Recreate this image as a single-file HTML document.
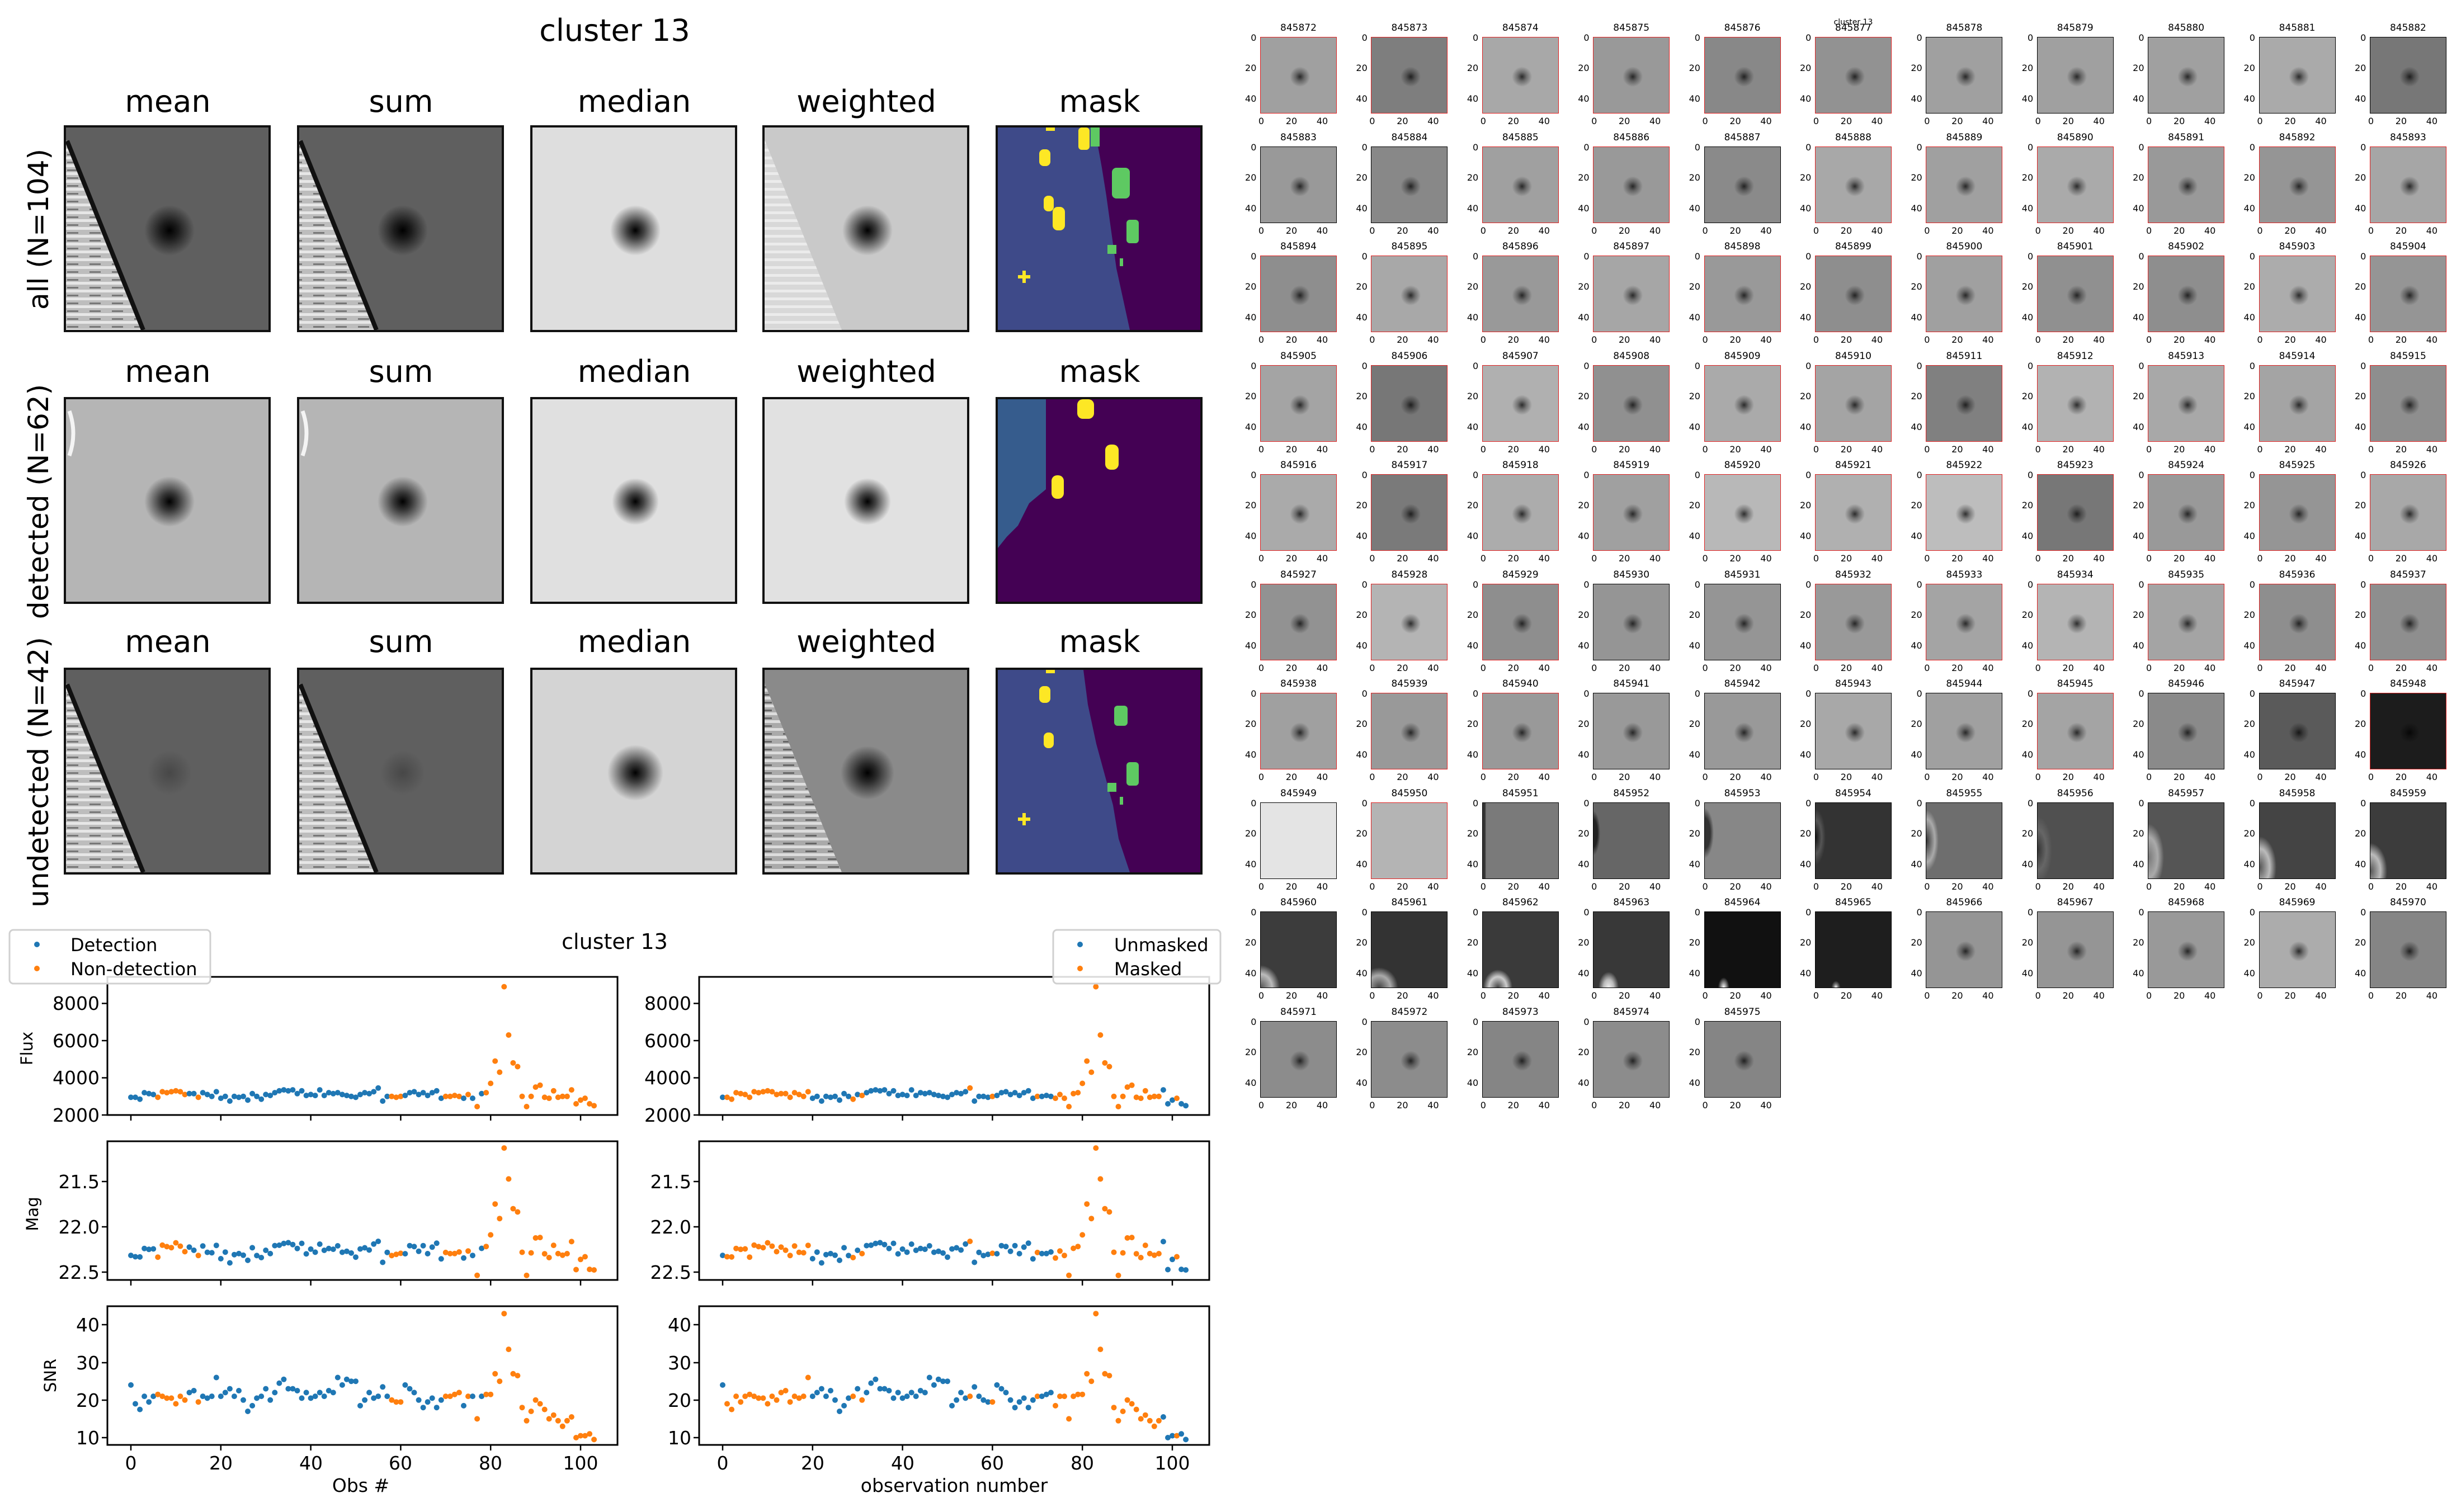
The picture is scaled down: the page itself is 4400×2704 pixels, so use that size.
<!DOCTYPE html>
<html><head><meta charset="utf-8">
<style>
html,body{margin:0;padding:0;background:#fff}
body{width:4400px;height:2704px;position:relative;overflow:hidden;font-family:"DejaVu Sans","Liberation Sans",sans-serif}
svg{position:absolute;left:0;top:0}
.g{position:absolute;left:2200px;top:0;display:grid;grid-template-columns:repeat(11,198.4px);grid-auto-rows:195.5px}
.c{position:relative;font-size:16px;color:#000;--g:#a0a0a0}
.c p{position:absolute;margin:0;left:53px;width:137px;top:40px;text-align:center;font-size:17px;line-height:20px}
.c i{position:absolute;left:53px;top:66px;width:135px;height:135px;border:1px solid #e02020;background:radial-gradient(circle at 52% 52%,rgba(0,0,0,.75) 0,rgba(0,0,0,.35) 8px,rgba(0,0,0,0) 18px),var(--g)}
.c.k i{border-color:#000}
.c em{position:absolute;font-style:normal;right:152px;width:30px;text-align:right;line-height:16px}
.c em:nth-of-type(1){top:60px}.c em:nth-of-type(2){top:114px}.c em:nth-of-type(3){top:169px}
.c b{position:absolute;font-weight:normal;top:209px;width:30px;text-align:center;line-height:16px}
.c b:nth-of-type(1){left:40px}.c b:nth-of-type(2){left:94px}.c b:nth-of-type(3){left:149px}
.st{position:absolute;left:0;top:0}
</style></head><body>

<svg width="2200" height="1650" viewBox="0 0 2200 1650">
<defs>
<radialGradient id="s1"><stop offset="0" stop-color="#000" stop-opacity="1"/><stop offset=".35" stop-color="#000" stop-opacity=".7"/><stop offset="1" stop-color="#000" stop-opacity="0"/></radialGradient>
<radialGradient id="s2"><stop offset="0" stop-color="#000" stop-opacity=".25"/><stop offset="1" stop-color="#000" stop-opacity="0"/></radialGradient>
<pattern id="str" width="40" height="14" patternUnits="userSpaceOnUse"><rect width="40" height="14" fill="#bdbdbd"/><rect width="40" height="5" fill="#e6e6e6"/><rect y="9" width="20" height="3" fill="#777"/></pattern>
<pattern id="str2" width="40" height="14" patternUnits="userSpaceOnUse"><rect width="40" height="14" fill="#d8d8d8"/><rect width="40" height="5" fill="#ebebeb"/></pattern>
<pattern id="str3" width="40" height="14" patternUnits="userSpaceOnUse"><rect width="40" height="14" fill="#aaa"/><rect width="40" height="5" fill="#ddd"/><rect y="9" width="20" height="3" fill="#666"/></pattern>
</defs>
<g font-size="54" text-anchor="middle" fill="#000">
<text x="1099" y="73">cluster 13</text>
<text x="300" y="200">mean</text><text x="717" y="200">sum</text><text x="1134" y="200">median</text><text x="1549" y="200">weighted</text><text x="1966" y="200">mask</text>
<text x="300" y="683">mean</text><text x="717" y="683">sum</text><text x="1134" y="683">median</text><text x="1549" y="683">weighted</text><text x="1966" y="683">mask</text>
<text x="300" y="1166">mean</text><text x="717" y="1166">sum</text><text x="1134" y="1166">median</text><text x="1549" y="1166">weighted</text><text x="1966" y="1166">mask</text>
</g>
<g font-size="50" text-anchor="middle">
<text transform="translate(86,410) rotate(-90)">all (N=104)</text>
<text transform="translate(86,897) rotate(-90)">detected (N=62)</text>
<text transform="translate(86,1381) rotate(-90)">undetected (N=42)</text>
</g>
<!-- row 1 -->
<g stroke="#111" stroke-width="4">
<rect x="116" y="226" width="366" height="366" fill="#5f5f5f"/>
<rect x="533" y="226" width="366" height="366" fill="#5f5f5f"/>
<rect x="950" y="226" width="366" height="366" fill="#dedede"/>
<rect x="1365" y="226" width="366" height="366" fill="#c9c9c9"/>
<rect x="1782" y="226" width="366" height="366" fill="#440154"/>
</g>
<polygon points="118,250 118,590 256,590" fill="url(#str)"/><line x1="120" y1="252" x2="256" y2="590" stroke="#111" stroke-width="8"/>
<polygon points="535,250 535,590 673,590" fill="url(#str)"/><line x1="537" y1="252" x2="673" y2="590" stroke="#111" stroke-width="8"/>
<polygon points="1367,250 1367,590 1505,590" fill="url(#str2)"/>
<circle cx="303" cy="412" r="45" fill="url(#s1)"/><circle cx="720" cy="412" r="45" fill="url(#s1)"/><circle cx="1136" cy="412" r="45" fill="url(#s1)"/><circle cx="1551" cy="412" r="45" fill="url(#s1)"/>
<polygon points="1784,228 1957,228 1970,300 1978,350 1996,480 2020,590 1784,590" fill="#3e4a89"/>
<g fill="#fde725"><rect x="1858" y="267" width="20" height="30" rx="8"/><rect x="1866" y="350" width="18" height="28" rx="8"/><rect x="1882" y="370" width="22" height="42" rx="9"/><rect x="1928" y="228" width="20" height="40" rx="6"/><rect x="1870" y="228" width="16" height="6"/><rect x="1820" y="492" width="22" height="6"/><rect x="1828" y="484" width="6" height="22"/></g>
<g fill="#5ec962"><rect x="1950" y="228" width="16" height="34"/><rect x="1988" y="300" width="32" height="55" rx="8"/><rect x="2014" y="393" width="22" height="42" rx="6"/><rect x="1980" y="438" width="16" height="16"/><rect x="2002" y="462" width="6" height="14"/></g>
<!-- row 2 -->
<g stroke="#111" stroke-width="4">
<rect x="116" y="712" width="366" height="366" fill="#b5b5b5"/>
<rect x="533" y="712" width="366" height="366" fill="#b5b5b5"/>
<rect x="950" y="712" width="366" height="366" fill="#e0e0e0"/>
<rect x="1365" y="712" width="366" height="366" fill="#e1e1e1"/>
<rect x="1782" y="712" width="366" height="366" fill="#440154"/>
</g>
<path d="M124,735 q14,40 0,80" stroke="#f4f4f4" stroke-width="7" fill="none"/><path d="M541,735 q14,40 0,80" stroke="#f4f4f4" stroke-width="7" fill="none"/>
<circle cx="303" cy="897" r="45" fill="url(#s1)"/><circle cx="720" cy="897" r="45" fill="url(#s1)"/><circle cx="1136" cy="897" r="42" fill="url(#s1)"/><circle cx="1551" cy="897" r="42" fill="url(#s1)"/>
<polygon points="1784,714 1870,714 1870,875 1840,900 1820,940 1800,960 1784,980" fill="#365c8d"/>
<g fill="#fde725"><rect x="1926" y="714" width="30" height="35" rx="10"/><rect x="1976" y="795" width="24" height="45" rx="10"/><rect x="1880" y="850" width="22" height="42" rx="10"/></g>
<!-- row 3 -->
<g stroke="#111" stroke-width="4">
<rect x="116" y="1196" width="366" height="366" fill="#5f5f5f"/>
<rect x="533" y="1196" width="366" height="366" fill="#5f5f5f"/>
<rect x="950" y="1196" width="366" height="366" fill="#d4d4d4"/>
<rect x="1365" y="1196" width="366" height="366" fill="#8a8a8a"/>
<rect x="1782" y="1196" width="366" height="366" fill="#440154"/>
</g>
<polygon points="118,1222 118,1560 256,1560" fill="url(#str)"/><line x1="120" y1="1224" x2="256" y2="1560" stroke="#111" stroke-width="8"/>
<polygon points="535,1222 535,1560 673,1560" fill="url(#str)"/><line x1="537" y1="1224" x2="673" y2="1560" stroke="#111" stroke-width="8"/>
<polygon points="1367,1222 1367,1560 1505,1560" fill="url(#str3)"/>
<circle cx="303" cy="1382" r="40" fill="url(#s2)"/><circle cx="720" cy="1382" r="40" fill="url(#s2)"/><circle cx="1136" cy="1382" r="50" fill="url(#s1)"/><circle cx="1551" cy="1382" r="48" fill="url(#s1)"/>
<polygon points="1784,1198 1937,1198 1945,1260 1960,1330 1990,1440 2000,1500 2020,1560 1784,1560" fill="#3e4a89"/>
<g fill="#fde725"><rect x="1858" y="1227" width="20" height="30" rx="8"/><rect x="1866" y="1310" width="18" height="28" rx="8"/><rect x="1820" y="1462" width="22" height="6"/><rect x="1828" y="1454" width="6" height="22"/><rect x="1870" y="1198" width="16" height="6"/></g>
<g fill="#5ec962"><rect x="1992" y="1262" width="24" height="36" rx="6"/><rect x="2014" y="1363" width="22" height="42" rx="6"/><rect x="1980" y="1400" width="16" height="16"/><rect x="2002" y="1425" width="6" height="14"/></g>
</svg>

<svg width="2200" height="2704" viewBox="0 0 2200 2704" style="left:0;top:0" id="pl">
<g fill="none" stroke="#000" stroke-width="3">
<rect x="192" y="1747" width="912" height="247"/><rect x="192" y="2041" width="912" height="248"/><rect x="192" y="2336" width="912" height="248"/>
<rect x="1250" y="1747" width="912" height="247"/><rect x="1250" y="2041" width="912" height="248"/><rect x="1250" y="2336" width="912" height="248"/>
</g>
<g id="ticks" stroke="#000" stroke-width="2.5"></g>
<g font-size="33" text-anchor="end" fill="#000">
<text x="178" y="2006">2000</text><text x="178" y="1939">4000</text><text x="178" y="1873">6000</text><text x="178" y="1806">8000</text>
<text x="178" y="2125">21.5</text><text x="178" y="2206">22.0</text><text x="178" y="2287">22.5</text>
<text x="178" y="2583">10</text><text x="178" y="2516">20</text><text x="178" y="2449">30</text><text x="178" y="2381">40</text>
<text x="1236" y="2006">2000</text><text x="1236" y="1939">4000</text><text x="1236" y="1873">6000</text><text x="1236" y="1806">8000</text>
<text x="1236" y="2125">21.5</text><text x="1236" y="2206">22.0</text><text x="1236" y="2287">22.5</text>
<text x="1236" y="2583">10</text><text x="1236" y="2516">20</text><text x="1236" y="2449">30</text><text x="1236" y="2381">40</text>
</g>
<g font-size="33" text-anchor="middle" fill="#000">
<text x="234" y="2628">0</text><text x="395" y="2628">20</text><text x="556" y="2628">40</text><text x="716" y="2628">60</text><text x="877" y="2628">80</text><text x="1038" y="2628">100</text>
<text x="1292" y="2628">0</text><text x="1453" y="2628">20</text><text x="1614" y="2628">40</text><text x="1774" y="2628">60</text><text x="1935" y="2628">80</text><text x="2096" y="2628">100</text>
<text x="645" y="2668">Obs #</text><text x="1706" y="2668">observation number</text>
<text x="1099" y="1697" font-size="38">cluster 13</text>
</g>
<g font-size="29" text-anchor="middle">
<text transform="translate(58,1875) rotate(-90)">Flux</text>
<text transform="translate(68,2171) rotate(-90)">Mag</text>
<text transform="translate(100,2460) rotate(-90)">SNR</text>
</g>
<g id="dots"></g>
<rect x="17" y="1663" width="359" height="96" rx="7" fill="#fff" fill-opacity=".85" stroke="#d0d0d0" stroke-width="3"/>
<circle cx="66" cy="1689" r="5" fill="#1f77b4"/><circle cx="66" cy="1732" r="5" fill="#ff7f0e"/>
<text x="126" y="1701" font-size="32">Detection</text><text x="126" y="1744" font-size="32">Non-detection</text>
<rect x="1883" y="1663" width="299" height="96" rx="7" fill="#fff" fill-opacity=".85" stroke="#d0d0d0" stroke-width="3"/>
<circle cx="1931" cy="1689" r="5" fill="#1f77b4"/><circle cx="1931" cy="1732" r="5" fill="#ff7f0e"/>
<text x="1992" y="1701" font-size="32">Unmasked</text><text x="1992" y="1744" font-size="32">Masked</text>
</svg>

<div class="g">
<div class="c"><p>845872</p><i></i><em>0</em><em>20</em><em>40</em><b>0</b><b>20</b><b>40</b></div>
<div class="c" style="--g:#7e7e7e"><p>845873</p><i></i><em>0</em><em>20</em><em>40</em><b>0</b><b>20</b><b>40</b></div>
<div class="c" style="--g:#a8a8a8"><p>845874</p><i></i><em>0</em><em>20</em><em>40</em><b>0</b><b>20</b><b>40</b></div>
<div class="c" style="--g:#999"><p>845875</p><i></i><em>0</em><em>20</em><em>40</em><b>0</b><b>20</b><b>40</b></div>
<div class="c" style="--g:#888"><p>845876</p><i></i><em>0</em><em>20</em><em>40</em><b>0</b><b>20</b><b>40</b></div>
<div class="c" style="--g:#929292"><p style="top:30px;font-size:14px">cluster 13</p><p>845877</p><i></i><em>0</em><em>20</em><em>40</em><b>0</b><b>20</b><b>40</b></div>
<div class="c k"><p>845878</p><i></i><em>0</em><em>20</em><em>40</em><b>0</b><b>20</b><b>40</b></div>
<div class="c k"><p>845879</p><i></i><em>0</em><em>20</em><em>40</em><b>0</b><b>20</b><b>40</b></div>
<div class="c k"><p>845880</p><i></i><em>0</em><em>20</em><em>40</em><b>0</b><b>20</b><b>40</b></div>
<div class="c k" style="--g:#aaa"><p>845881</p><i></i><em>0</em><em>20</em><em>40</em><b>0</b><b>20</b><b>40</b></div>
<div class="c k" style="--g:#777"><p>845882</p><i></i><em>0</em><em>20</em><em>40</em><b>0</b><b>20</b><b>40</b></div>
<div class="c k" style="--g:#999"><p>845883</p><i></i><em>0</em><em>20</em><em>40</em><b>0</b><b>20</b><b>40</b></div>
<div class="c k" style="--g:#888"><p>845884</p><i></i><em>0</em><em>20</em><em>40</em><b>0</b><b>20</b><b>40</b></div>
<div class="c"><p>845885</p><i></i><em>0</em><em>20</em><em>40</em><b>0</b><b>20</b><b>40</b></div>
<div class="c" style="--g:#999"><p>845886</p><i></i><em>0</em><em>20</em><em>40</em><b>0</b><b>20</b><b>40</b></div>
<div class="c k" style="--g:#8a8a8a"><p>845887</p><i></i><em>0</em><em>20</em><em>40</em><b>0</b><b>20</b><b>40</b></div>
<div class="c" style="--g:#a8a8a8"><p>845888</p><i></i><em>0</em><em>20</em><em>40</em><b>0</b><b>20</b><b>40</b></div>
<div class="c"><p>845889</p><i></i><em>0</em><em>20</em><em>40</em><b>0</b><b>20</b><b>40</b></div>
<div class="c" style="--g:#aaa"><p>845890</p><i></i><em>0</em><em>20</em><em>40</em><b>0</b><b>20</b><b>40</b></div>
<div class="c" style="--g:#999"><p>845891</p><i></i><em>0</em><em>20</em><em>40</em><b>0</b><b>20</b><b>40</b></div>
<div class="c" style="--g:#959595"><p>845892</p><i></i><em>0</em><em>20</em><em>40</em><b>0</b><b>20</b><b>40</b></div>
<div class="c" style="--g:#a6a6a6"><p>845893</p><i></i><em>0</em><em>20</em><em>40</em><b>0</b><b>20</b><b>40</b></div>
<div class="c" style="--g:#8e8e8e"><p>845894</p><i></i><em>0</em><em>20</em><em>40</em><b>0</b><b>20</b><b>40</b></div>
<div class="c" style="--g:#a8a8a8"><p>845895</p><i></i><em>0</em><em>20</em><em>40</em><b>0</b><b>20</b><b>40</b></div>
<div class="c" style="--g:#999"><p>845896</p><i></i><em>0</em><em>20</em><em>40</em><b>0</b><b>20</b><b>40</b></div>
<div class="c" style="--g:#a6a6a6"><p>845897</p><i></i><em>0</em><em>20</em><em>40</em><b>0</b><b>20</b><b>40</b></div>
<div class="c" style="--g:#999"><p>845898</p><i></i><em>0</em><em>20</em><em>40</em><b>0</b><b>20</b><b>40</b></div>
<div class="c" style="--g:#8e8e8e"><p>845899</p><i></i><em>0</em><em>20</em><em>40</em><b>0</b><b>20</b><b>40</b></div>
<div class="c"><p>845900</p><i></i><em>0</em><em>20</em><em>40</em><b>0</b><b>20</b><b>40</b></div>
<div class="c" style="--g:#909090"><p>845901</p><i></i><em>0</em><em>20</em><em>40</em><b>0</b><b>20</b><b>40</b></div>
<div class="c" style="--g:#8e8e8e"><p>845902</p><i></i><em>0</em><em>20</em><em>40</em><b>0</b><b>20</b><b>40</b></div>
<div class="c" style="--g:#acacac"><p>845903</p><i></i><em>0</em><em>20</em><em>40</em><b>0</b><b>20</b><b>40</b></div>
<div class="c" style="--g:#959595"><p>845904</p><i></i><em>0</em><em>20</em><em>40</em><b>0</b><b>20</b><b>40</b></div>
<div class="c" style="--g:#a4a4a4"><p>845905</p><i></i><em>0</em><em>20</em><em>40</em><b>0</b><b>20</b><b>40</b></div>
<div class="c" style="--g:#777"><p>845906</p><i></i><em>0</em><em>20</em><em>40</em><b>0</b><b>20</b><b>40</b></div>
<div class="c" style="--g:#b0b0b0"><p>845907</p><i></i><em>0</em><em>20</em><em>40</em><b>0</b><b>20</b><b>40</b></div>
<div class="c" style="--g:#909090"><p>845908</p><i></i><em>0</em><em>20</em><em>40</em><b>0</b><b>20</b><b>40</b></div>
<div class="c" style="--g:#aaa"><p>845909</p><i></i><em>0</em><em>20</em><em>40</em><b>0</b><b>20</b><b>40</b></div>
<div class="c" style="--g:#a4a4a4"><p>845910</p><i></i><em>0</em><em>20</em><em>40</em><b>0</b><b>20</b><b>40</b></div>
<div class="c" style="--g:#808080"><p>845911</p><i></i><em>0</em><em>20</em><em>40</em><b>0</b><b>20</b><b>40</b></div>
<div class="c" style="--g:#b2b2b2"><p>845912</p><i></i><em>0</em><em>20</em><em>40</em><b>0</b><b>20</b><b>40</b></div>
<div class="c" style="--g:#a8a8a8"><p>845913</p><i></i><em>0</em><em>20</em><em>40</em><b>0</b><b>20</b><b>40</b></div>
<div class="c" style="--g:#a4a4a4"><p>845914</p><i></i><em>0</em><em>20</em><em>40</em><b>0</b><b>20</b><b>40</b></div>
<div class="c" style="--g:#8e8e8e"><p>845915</p><i></i><em>0</em><em>20</em><em>40</em><b>0</b><b>20</b><b>40</b></div>
<div class="c" style="--g:#aaa"><p>845916</p><i></i><em>0</em><em>20</em><em>40</em><b>0</b><b>20</b><b>40</b></div>
<div class="c" style="--g:#7a7a7a"><p>845917</p><i></i><em>0</em><em>20</em><em>40</em><b>0</b><b>20</b><b>40</b></div>
<div class="c" style="--g:#acacac"><p>845918</p><i></i><em>0</em><em>20</em><em>40</em><b>0</b><b>20</b><b>40</b></div>
<div class="c" style="--g:#a0a0a0"><p>845919</p><i></i><em>0</em><em>20</em><em>40</em><b>0</b><b>20</b><b>40</b></div>
<div class="c" style="--g:#b8b8b8"><p>845920</p><i></i><em>0</em><em>20</em><em>40</em><b>0</b><b>20</b><b>40</b></div>
<div class="c" style="--g:#b0b0b0"><p>845921</p><i></i><em>0</em><em>20</em><em>40</em><b>0</b><b>20</b><b>40</b></div>
<div class="c" style="--g:#bdbdbd"><p>845922</p><i></i><em>0</em><em>20</em><em>40</em><b>0</b><b>20</b><b>40</b></div>
<div class="c" style="--g:#777"><p>845923</p><i></i><em>0</em><em>20</em><em>40</em><b>0</b><b>20</b><b>40</b></div>
<div class="c" style="--g:#999"><p>845924</p><i></i><em>0</em><em>20</em><em>40</em><b>0</b><b>20</b><b>40</b></div>
<div class="c" style="--g:#959595"><p>845925</p><i></i><em>0</em><em>20</em><em>40</em><b>0</b><b>20</b><b>40</b></div>
<div class="c" style="--g:#a8a8a8"><p>845926</p><i></i><em>0</em><em>20</em><em>40</em><b>0</b><b>20</b><b>40</b></div>
<div class="c" style="--g:#929292"><p>845927</p><i></i><em>0</em><em>20</em><em>40</em><b>0</b><b>20</b><b>40</b></div>
<div class="c" style="--g:#b4b4b4"><p>845928</p><i></i><em>0</em><em>20</em><em>40</em><b>0</b><b>20</b><b>40</b></div>
<div class="c" style="--g:#8e8e8e"><p>845929</p><i></i><em>0</em><em>20</em><em>40</em><b>0</b><b>20</b><b>40</b></div>
<div class="c k" style="--g:#959595"><p>845930</p><i></i><em>0</em><em>20</em><em>40</em><b>0</b><b>20</b><b>40</b></div>
<div class="c k" style="--g:#959595"><p>845931</p><i></i><em>0</em><em>20</em><em>40</em><b>0</b><b>20</b><b>40</b></div>
<div class="c" style="--g:#999"><p>845932</p><i></i><em>0</em><em>20</em><em>40</em><b>0</b><b>20</b><b>40</b></div>
<div class="c" style="--g:#a4a4a4"><p>845933</p><i></i><em>0</em><em>20</em><em>40</em><b>0</b><b>20</b><b>40</b></div>
<div class="c" style="--g:#b4b4b4"><p>845934</p><i></i><em>0</em><em>20</em><em>40</em><b>0</b><b>20</b><b>40</b></div>
<div class="c" style="--g:#a4a4a4"><p>845935</p><i></i><em>0</em><em>20</em><em>40</em><b>0</b><b>20</b><b>40</b></div>
<div class="c" style="--g:#8e8e8e"><p>845936</p><i></i><em>0</em><em>20</em><em>40</em><b>0</b><b>20</b><b>40</b></div>
<div class="c" style="--g:#8e8e8e"><p>845937</p><i></i><em>0</em><em>20</em><em>40</em><b>0</b><b>20</b><b>40</b></div>
<div class="c"><p>845938</p><i></i><em>0</em><em>20</em><em>40</em><b>0</b><b>20</b><b>40</b></div>
<div class="c" style="--g:#999"><p>845939</p><i></i><em>0</em><em>20</em><em>40</em><b>0</b><b>20</b><b>40</b></div>
<div class="c" style="--g:#999"><p>845940</p><i></i><em>0</em><em>20</em><em>40</em><b>0</b><b>20</b><b>40</b></div>
<div class="c k" style="--g:#999"><p>845941</p><i></i><em>0</em><em>20</em><em>40</em><b>0</b><b>20</b><b>40</b></div>
<div class="c k" style="--g:#999"><p>845942</p><i></i><em>0</em><em>20</em><em>40</em><b>0</b><b>20</b><b>40</b></div>
<div class="c k" style="--g:#a8a8a8"><p>845943</p><i></i><em>0</em><em>20</em><em>40</em><b>0</b><b>20</b><b>40</b></div>
<div class="c k"><p>845944</p><i></i><em>0</em><em>20</em><em>40</em><b>0</b><b>20</b><b>40</b></div>
<div class="c" style="--g:#a4a4a4"><p>845945</p><i></i><em>0</em><em>20</em><em>40</em><b>0</b><b>20</b><b>40</b></div>
<div class="c k" style="--g:#8a8a8a"><p>845946</p><i></i><em>0</em><em>20</em><em>40</em><b>0</b><b>20</b><b>40</b></div>
<div class="c k" style="--g:#5a5a5a"><p>845947</p><i></i><em>0</em><em>20</em><em>40</em><b>0</b><b>20</b><b>40</b></div>
<div class="c" style="--g:#1c1c1c"><p>845948</p><i></i><em>0</em><em>20</em><em>40</em><b>0</b><b>20</b><b>40</b></div>
<div class="c k"><p>845949</p><i style="background:#e4e4e4"></i><em>0</em><em>20</em><em>40</em><b>0</b><b>20</b><b>40</b></div>
<div class="c"><p>845950</p><i style="background:#b4b4b4"></i><em>0</em><em>20</em><em>40</em><b>0</b><b>20</b><b>40</b></div>
<div class="c k"><p>845951</p><i style="background:linear-gradient(90deg,#333 0,#333 4px,#7a7a7a 6px)"></i><em>0</em><em>20</em><em>40</em><b>0</b><b>20</b><b>40</b></div>
<div class="c k"><p>845952</p><i style="background:radial-gradient(ellipse 12px 40px at 0 40%,#222 0,#222 60%,#666 100%),#666"></i><em>0</em><em>20</em><em>40</em><b>0</b><b>20</b><b>40</b></div>
<div class="c k"><p>845953</p><i style="background:radial-gradient(ellipse 16px 45px at 0 40%,#333 0,#333 60%,#878787 100%),#878787"></i><em>0</em><em>20</em><em>40</em><b>0</b><b>20</b><b>40</b></div>
<div class="c k"><p>845954</p><i style="background:radial-gradient(ellipse 18px 50px at 0 45%,#111 0,#555 60%,#333 100%),#333"></i><em>0</em><em>20</em><em>40</em><b>0</b><b>20</b><b>40</b></div>
<div class="c k"><p>845955</p><i style="background:radial-gradient(ellipse 22px 55px at 0 50%,#333 0,#aaa 70%,#6e6e6e 100%),#6e6e6e"></i><em>0</em><em>20</em><em>40</em><b>0</b><b>20</b><b>40</b></div>
<div class="c k"><p>845956</p><i style="background:radial-gradient(ellipse 26px 60px at 0 62%,#333 0,#666 60%,#505050 100%),#505050"></i><em>0</em><em>20</em><em>40</em><b>0</b><b>20</b><b>40</b></div>
<div class="c k"><p>845957</p><i style="background:radial-gradient(ellipse 28px 60px at 0 72%,#777 0,#aaa 60%,#555 100%),#555"></i><em>0</em><em>20</em><em>40</em><b>0</b><b>20</b><b>40</b></div>
<div class="c k"><p>845958</p><i style="background:radial-gradient(ellipse 30px 55px at 0 85%,#555 0,#bbb 60%,#444 100%),#444"></i><em>0</em><em>20</em><em>40</em><b>0</b><b>20</b><b>40</b></div>
<div class="c k"><p>845959</p><i style="background:radial-gradient(ellipse 30px 50px at 0 90%,#555 0,#bbb 60%,#3c3c3c 100%),#3c3c3c"></i><em>0</em><em>20</em><em>40</em><b>0</b><b>20</b><b>40</b></div>
<div class="c k"><p>845960</p><i style="background:radial-gradient(ellipse 34px 40px at 0 100%,#555 0,#bbb 60%,#3c3c3c 100%),#3c3c3c"></i><em>0</em><em>20</em><em>40</em><b>0</b><b>20</b><b>40</b></div>
<div class="c k"><p>845961</p><i style="background:radial-gradient(ellipse 34px 36px at 10% 100%,#444 0,#aaa 60%,#333 100%),#333"></i><em>0</em><em>20</em><em>40</em><b>0</b><b>20</b><b>40</b></div>
<div class="c k"><p>845962</p><i style="background:radial-gradient(ellipse 26px 32px at 20% 100%,#444 0,#ccc 60%,#3a3a3a 100%),#3a3a3a"></i><em>0</em><em>20</em><em>40</em><b>0</b><b>20</b><b>40</b></div>
<div class="c k"><p>845963</p><i style="background:radial-gradient(ellipse 18px 28px at 20% 100%,#eee 0,#bbb 50%,#383838 100%),#383838"></i><em>0</em><em>20</em><em>40</em><b>0</b><b>20</b><b>40</b></div>
<div class="c k"><p>845964</p><i style="background:radial-gradient(ellipse 10px 18px at 25% 100%,#fff 0,#888 50%,#111 100%),#111"></i><em>0</em><em>20</em><em>40</em><b>0</b><b>20</b><b>40</b></div>
<div class="c k"><p>845965</p><i style="background:radial-gradient(ellipse 8px 12px at 27% 100%,#fff 0,#777 50%,#1e1e1e 100%),#1e1e1e"></i><em>0</em><em>20</em><em>40</em><b>0</b><b>20</b><b>40</b></div>
<div class="c k" style="--g:#959595"><p>845966</p><i></i><em>0</em><em>20</em><em>40</em><b>0</b><b>20</b><b>40</b></div>
<div class="c k" style="--g:#959595"><p>845967</p><i></i><em>0</em><em>20</em><em>40</em><b>0</b><b>20</b><b>40</b></div>
<div class="c k" style="--g:#999"><p>845968</p><i></i><em>0</em><em>20</em><em>40</em><b>0</b><b>20</b><b>40</b></div>
<div class="c k" style="--g:#acacac"><p>845969</p><i></i><em>0</em><em>20</em><em>40</em><b>0</b><b>20</b><b>40</b></div>
<div class="c k" style="--g:#858585"><p>845970</p><i></i><em>0</em><em>20</em><em>40</em><b>0</b><b>20</b><b>40</b></div>
<div class="c k" style="--g:#8c8c8c"><p>845971</p><i></i><em>0</em><em>20</em><em>40</em><b>0</b><b>20</b><b>40</b></div>
<div class="c k" style="--g:#8c8c8c"><p>845972</p><i></i><em>0</em><em>20</em><em>40</em><b>0</b><b>20</b><b>40</b></div>
<div class="c k" style="--g:#858585"><p>845973</p><i></i><em>0</em><em>20</em><em>40</em><b>0</b><b>20</b><b>40</b></div>
<div class="c k" style="--g:#8c8c8c"><p>845974</p><i></i><em>0</em><em>20</em><em>40</em><b>0</b><b>20</b><b>40</b></div>
<div class="c k" style="--g:#858585"><p>845975</p><i></i><em>0</em><em>20</em><em>40</em><b>0</b><b>20</b><b>40</b></div>
</div>

<script>
(function(){
var F=[2950,2950,2850,3200,3150,3100,2950,3250,3200,3250,3300,3250,3100,3150,3150,2950,3200,3100,3000,3250,
2900,3000,2750,3000,2950,3000,2800,3150,3000,2850,3100,3050,3200,3300,3350,3300,3350,3150,3300,3050,3100,3050,3350,3050,3200,3150,3200,3100,3050,3000,
2950,3100,3200,3150,3250,3450,2750,3000,3000,2950,3000,3050,3200,3250,3100,3200,3050,3200,3300,2900,3000,3000,3050,3000,2900,3100,2900,2450,3150,3200,
3700,4900,4300,8900,6300,4800,4600,3000,2450,3000,3500,3600,2950,2900,3300,2950,3000,3000,3350,2600,2800,2900,2600,2500];
var S=[24,19,17.5,21,19.5,21,21.5,21,20.5,20.5,19,21,20,22,22.5,19.5,21,20.5,21,26,21,22,23,21,22.5,20,17,18.5,20.5,21,23,20,22,24.5,25.5,23,23,22.5,20.5,22,20.5,21,22,21,22.5,22,26,24,25.5,25,25,18.5,20,22,20.5,21,23.5,21,20,19.5,19.5,24,23,22,20,18,19.5,20.5,18,20,21,21,21.5,22,18.5,21,21,15,21,21.5,21.5,27,25,43,33.5,27,26.5,18,14.5,17,20,19,17.5,15,16,14.5,13,14.5,15.5,10,10.5,10.5,11,9.5];
function set(a){var o={};a.forEach(function(r){if(r.length)for(var k=r[0];k<=r[1];k++)o[k]=1;else o[r]=1});return o}
var L=set([[6,12],15,[58,60],[70,73],75,77,[79,103]]);
var R=set([[1,19],29,31,55,60,70,[74,97],101]);
var NS='http://www.w3.org/2000/svg',D=document.getElementById('dots'),T=document.getElementById('ticks');
function c(x,y,col){var e=document.createElementNS(NS,'circle');e.setAttribute('cx',x.toFixed(1));e.setAttribute('cy',y.toFixed(1));e.setAttribute('r','5');e.setAttribute('fill',col);D.appendChild(e)}
function l(x1,y1,x2,y2){var e=document.createElementNS(NS,'line');e.setAttribute('x1',x1);e.setAttribute('y1',y1);e.setAttribute('x2',x2);e.setAttribute('y2',y2);T.appendChild(e)}
[192,1250].forEach(function(ax,k){
 var set=k?R:L;
 for(var i=0;i<104;i++){
  var x=ax+42+i*8.04,col=set[i]?'#ff7f0e':'#1f77b4';
  var m=30.99-2.5*Math.log10(F[i])+0.02*Math.sin(i*2.3);
  c(x,1994-(F[i]-2000)*0.03325,col);
  c(x,2113+(m-21.5)*162,col);
  c(x,2571-(S[i]-10)*6.72,col);
 }
 [1994,2289,2584].forEach(function(yb){for(var j=0;j<=100;j+=20){var x=ax+42+j*8.04;l(x,yb,x,yb+10)}});
 [1994,1927.5,1861,1794.5,2113,2194,2275,2571,2504,2437,2369].forEach(function(y){l(ax-10,y,ax,y)});
});
})();
</script>
</body></html>
